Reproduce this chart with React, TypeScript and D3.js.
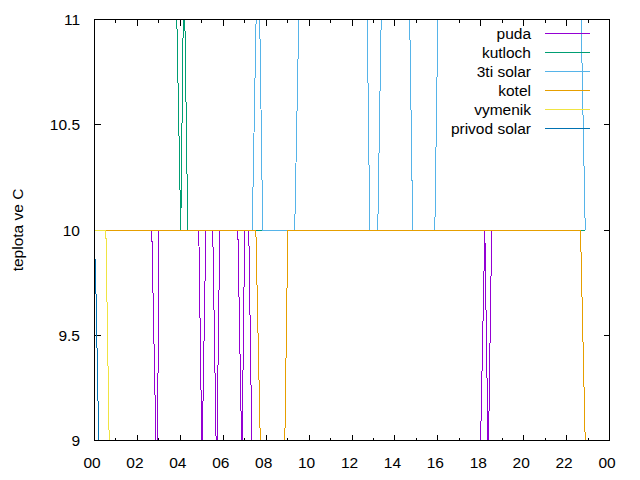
import React from 'react';
import * as d3 from 'd3';

// ---- data: [hour of day, temperature °C] ----
const puda: [number, number][] = [
  [0.04, 10], [2.67, 10], [2.93, 8.65], [2.99, 10], [4.86, 10], [5.01, 8.9], [5.19, 10],
  [5.51, 10], [5.69, 8.85], [5.84, 10], [6.68, 10], [6.87, 8.9], [7.0, 10], [7.19, 10],
  [7.5, 7.8], [17.7, 7.5], [18.19, 10], [18.35, 8.9], [18.51, 10], [22.87, 10],
];
const kutloch: [number, number][] = [
  [0.04, 12.5], [3.6, 12.3], [4.02, 10], [4.17, 11.3], [4.348, 10], [22.87, 10],
];
const tretiSolar: [number, number][] = [
  [0.04, 10], [7.35, 10], [7.626, 11.53], [7.84, 10], [9.33, 10], [9.71, 12], [12.59, 12],
  [12.83, 10], [13.2, 10], [13.52, 12], [14.55, 12], [14.83, 10], [15.86, 10], [16.14, 12],
  [22.49, 12], [22.87, 10],
];
const kotel: [number, number][] = [
  [0.04, 10], [7.52, 10], [7.9, 8.15], [8.73, 8.0], [9.01, 10], [22.65, 10], [22.9, 8.85],
];
const vymenik: [number, number][] = [
  [0.04, 10], [0.53, 10], [0.9, 7.6], [22.87, 7.2],
];
const privodSolar: [number, number][] = [
  [0.04, 9.86], [0.4, 7.9], [22.87, 7.0],
];

const seriesNames = ['puda', 'kutloch', '3ti solar', 'kotel', 'vymenik', 'privod solar'];
const seriesColors = ['#9400d3', '#009e73', '#56b4e9', '#e69f00', '#f0e442', '#0072b2'];
const seriesData = [puda, kutloch, tretiSolar, kotel, vymenik, privodSolar];

const xMajorTicks = [0, 2, 4, 6, 8, 10, 12, 14, 16, 18, 20, 22, 24];
const xTickLabels = ['00', '02', '04', '06', '08', '10', '12', '14', '16', '18', '20', '22', '00'];
const xMinorTicks = [1, 3, 5, 7, 9, 11, 13, 15, 17, 19, 21, 23];
const yTicks = [9, 9.5, 10, 10.5, 11];
const yTickLabels = ['9', '9.5', '10', '10.5', '11'];
const yLabel = 'teplota ve C';

const L = 94.5, R = 609.5, T = 19.5, B = 440.5;
const FONT = '"Liberation Sans", Arial, sans-serif';
const FS = 15.5;

export default function App() {
  const x = d3.scaleLinear().domain([0, 24]).range([L, R]);
  const y = d3.scaleLinear().domain([9, 11]).range([B, T]);
  const line = d3.line<[number, number]>().x(d => x(d[0])).y(d => y(d[1]));

  return (
    <svg width={640} height={480} style={{ position: 'absolute', left: 0, top: 0, background: '#fff' }}
      fontFamily={FONT} fontSize={FS}>
      <defs>
        <clipPath id="plot">
          <rect x={L} y={T} width={R - L} height={B - T} />
        </clipPath>
      </defs>
      <rect x={0} y={0} width={640} height={480} fill="#fff" />
      {/* ticks */}
      <g stroke="#000" strokeWidth={1} shapeRendering="crispEdges">
        {xMajorTicks.map((h, i) => (
          <g key={'xm' + i}>
            <line x1={x(h)} x2={x(h)} y1={B} y2={B - 6} />
            <line x1={x(h)} x2={x(h)} y1={T} y2={T + 6} />
          </g>
        ))}
        {xMinorTicks.map((h, i) => (
          <g key={'xn' + i}>
            <line x1={x(h)} x2={x(h)} y1={B} y2={B - 3} />
            <line x1={x(h)} x2={x(h)} y1={T} y2={T + 3} />
          </g>
        ))}
        {yTicks.map((v, i) => (
          <g key={'y' + i}>
            <line x1={L} x2={L + 6} y1={y(v)} y2={y(v)} />
            <line x1={R} x2={R - 6} y1={y(v)} y2={y(v)} />
          </g>
        ))}
      </g>
      {/* tick labels */}
      {xMajorTicks.map((h, i) => (
        <text key={'xl' + i} x={x(h) - 2.5} y={468} textAnchor="middle" fill="#000">{xTickLabels[i]}</text>
      ))}
      {yTicks.map((v, i) => (
        <text key={'yl' + i} x={80} y={y(v) + 5.5} textAnchor="end" fill="#000">{yTickLabels[i]}</text>
      ))}
      <text transform={`translate(23,${(T + B) / 2}) rotate(-90)`} textAnchor="middle" fill="#000">{yLabel}</text>
      {/* series */}
      <g clipPath="url(#plot)">
        {seriesData.map((d, i) => (
          <path key={'s' + i} d={line(d) || ''} fill="none" stroke={seriesColors[i]} strokeWidth={1}
            shapeRendering="crispEdges" />
        ))}
      </g>
      {/* legend */}
      {seriesNames.map((n, i) => {
        const ry = 33.5 + i * 19;
        return (
          <g key={'lg' + i}>
            <text x={531} y={ry + 5.5} textAnchor="end" fill="#000">{n}</text>
            <line x1={545} x2={590} y1={ry} y2={ry} stroke={seriesColors[i]} strokeWidth={1} shapeRendering="crispEdges" />
          </g>
        );
      })}
      {/* border */}
      <rect x={L} y={T} width={R - L} height={B - T} fill="none" stroke="#000" strokeWidth={1} shapeRendering="crispEdges" />
    </svg>
  );
}
